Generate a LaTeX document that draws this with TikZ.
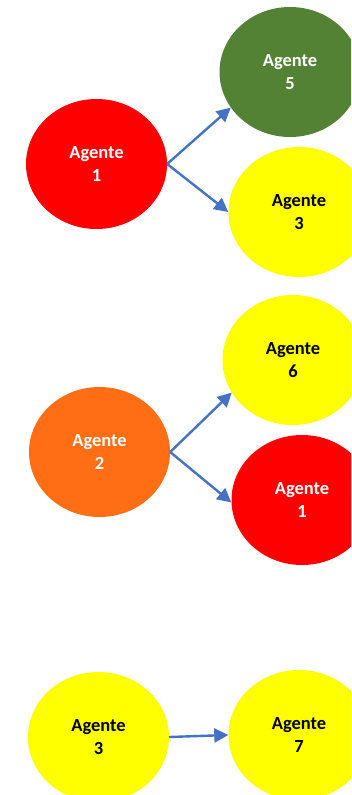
\documentclass[tikz,border=0pt]{standalone}
\usepackage{fontspec}
\setmainfont{Carlito}
\usetikzlibrary{shapes.geometric,arrows.meta}
\definecolor{agred}{HTML}{FF0000}
\definecolor{aggreen}{HTML}{548235}
\definecolor{agyellow}{HTML}{FFFF00}
\definecolor{agorange}{HTML}{FF6D15}
\definecolor{agblue}{HTML}{4472C4}
\tikzset{
  agent/.style={ellipse, minimum width=141pt, minimum height=130pt, inner sep=0pt,
    align=center, font=\fontsize{18.5}{23}\selectfont\bfseries},
  wagent/.style={agent, fill=#1, text=white},
  bagent/.style={agent, fill=#1, text=black},
  link/.style={draw=agblue, line width=2.4pt, -{Triangle[length=14pt,width=14pt]}}
}
\begin{document}
\begin{tikzpicture}[x=1pt,y=-1pt]
\useasboundingbox (0,0) rectangle (351,795);
\fill[white] (0,0) rectangle (351,795);
\clip (0,0) rectangle (351,795);
\node[wagent=agred] (a1) at (96.5,164) {Agente\\1};
\node[wagent=aggreen] (a5) at (290,72) {Agente\\5};
\node[bagent=agyellow] (a3) at (299,212) {Agente\\3};
\node[wagent=agorange] (a2) at (99.5,452) {Agente\\2};
\node[bagent=agyellow] (a6) at (293,360) {Agente\\6};
\node[wagent=agred] (a1b) at (302,500) {Agente\\1};
\node[bagent=agyellow] (a3b) at (98.5,737) {Agente\\3};
\node[bagent=agyellow] (a7) at (299,735) {Agente\\7};
\draw[link] (a1.east) -- (a5.211);
\draw[link] (a1.east) -- (a3.180);
\draw[link] (a2.east) -- (a6.208);
\draw[link] (a2.east) -- (a1b.182);
\draw[link] (a3b.east) -- (a7.west);
\end{tikzpicture}
\end{document}
